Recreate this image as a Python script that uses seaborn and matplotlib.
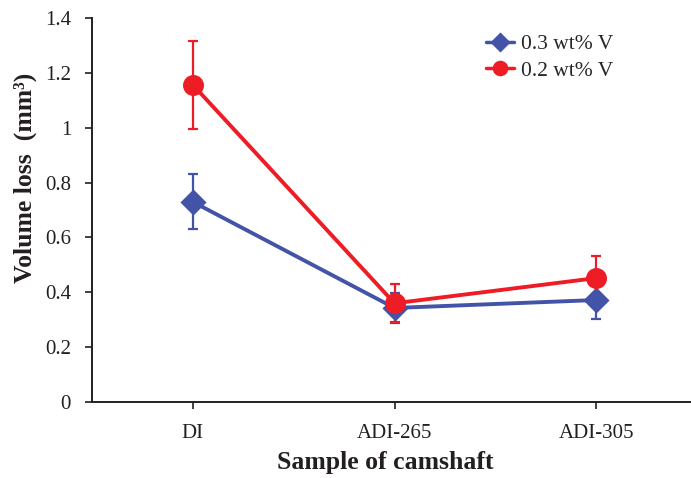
import matplotlib
matplotlib.use("Agg")
import matplotlib.pyplot as plt
import seaborn as sns
import pandas as pd

samples = ["DI", "ADI-265", "ADI-305"]
series_names = ["0.3 wt% V", "0.2 wt% V"]
loss_03 = [0.73, 0.343, 0.372]
err_03 = [0.10, 0.055, 0.07]
loss_02 = [1.157, 0.36, 0.452]
err_02 = [0.16, 0.07, 0.08]

colors = ["#4353A8", "#EE1C25"]
markers = ["D", "o"]
ink = "#231F20"

df = pd.DataFrame({
    "sample": samples * 2,
    "loss": loss_03 + loss_02,
    "series": [series_names[0]] * 3 + [series_names[1]] * 3,
})

sns.set_style("ticks")
plt.rcParams["font.family"] = ["Liberation Serif", "DejaVu Serif"]

fig = plt.figure(figsize=(6.91, 4.78), dpi=100)
ax = fig.add_axes([0.133, 0.159, 0.876, 0.803])

sns.pointplot(data=df, x="sample", y="loss", hue="series", order=samples,
              hue_order=series_names, palette=colors, markers=markers,
              errorbar=None, ax=ax, linewidth=2.8, markersize=13, zorder=3)

# diamond markers read larger than circles at equal size; shrink them a bit
for ln in ax.lines:
    if ln.get_marker() == "D":
        ln.set_markersize(11)

for vals, errs, c in [(loss_03, err_03, colors[0]), (loss_02, err_02, colors[1])]:
    ax.errorbar(range(len(samples)), vals, yerr=errs, fmt="none", ecolor=c,
                elinewidth=1.6, capsize=3.5, capthick=1.6, zorder=2)

ax.set_xlim(-0.5, 2.5)
ax.set_ylim(0, 1.4)
ax.set_yticks([0, 0.2, 0.4, 0.6, 0.8, 1.0, 1.2, 1.4])
ax.set_yticklabels(["0", "0.2", "0.4", "0.6", "0.8", "1", "1.2", "1.4"])
ax.tick_params(axis="both", labelsize=15, length=5, width=1.2, color=ink, labelcolor=ink)
ax.tick_params(axis="x", pad=11)
ax.tick_params(axis="y", pad=10)
for s in ["left", "bottom"]:
    ax.spines[s].set_linewidth(1.4)
    ax.spines[s].set_color(ink)
sns.despine(ax=ax)

ax.set_xlabel("Sample of camshaft", fontsize=18.5, fontweight="bold", color=ink)
ax.set_ylabel("Volume loss  (mm³)", fontsize=18.5, fontweight="bold", color=ink)
ax.xaxis.set_label_coords(0.485, -0.128)
ax.yaxis.set_label_coords(-0.09, 0.585)

handles, labels = ax.get_legend_handles_labels()
ax.get_legend().remove()
leg = fig.legend(handles, labels, loc="upper left", bbox_to_anchor=(0.703, 0.928),
                 frameon=False, fontsize=15.5, handlelength=1.3, handletextpad=0.35,
                 labelspacing=0.3, borderpad=0, borderaxespad=0, markerscale=0.7)
for h in leg.legend_handles:
    h.set_linewidth(2.5)

fig.savefig("out.png", dpi=100)
